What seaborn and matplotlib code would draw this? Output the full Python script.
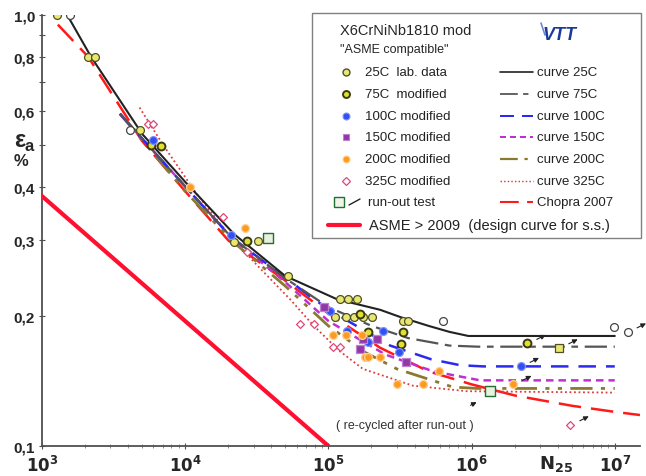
"""plot.py - X6CrNiNb1810 strain-life data vs. design curves"""
import matplotlib
matplotlib.use("Agg")
import matplotlib.pyplot as plt
import seaborn as sns
from matplotlib.transforms import offset_copy
from matplotlib.patches import Rectangle
from matplotlib.lines import Line2D
from matplotlib.ticker import FixedLocator, FixedFormatter, NullFormatter

sns.set_style("ticks")
plt.rcParams["font.family"] = ["Liberation Sans", "DejaVu Sans"]

# ---- data (N = cycles, e = strain amplitude %) ----
c25_N = [1.5e3, 2.2e3, 5e3, 1e4, 2.2e4, 5e4, 1.15e5, 2.3e5, 3.2e5, 5e5, 7e5, 9.5e5, 1e7]
c25_e = [1.0, 0.80, 0.53, 0.41, 0.31, 0.248, 0.219, 0.207, 0.199, 0.19, 0.184, 0.18, 0.18]
c75_N = [3.5e3, 1e4, 2.1e4, 5e4, 1e5, 2e5, 3.6e5, 7e5, 1.1e6, 1e7]
c75_e = [0.59, 0.40, 0.305, 0.245, 0.21, 0.19, 0.178, 0.171, 0.170, 0.170]
c100_N = [3.5e3, 1e4, 2.1e4, 5.7e4, 7.9e4, 1.3e5, 2.7e5, 5.2e5, 8.3e5, 1.2e6, 1e7]
c100_e = [0.59, 0.40, 0.305, 0.238, 0.219, 0.197, 0.171, 0.159, 0.154, 0.153, 0.153]
c150_N = [3.5e3, 1e4, 2.1e4, 5e4, 1e5, 1.5e5, 2.5e5, 5.4e5, 1.15e6, 1e7]
c150_e = [0.59, 0.40, 0.305, 0.24, 0.195, 0.18, 0.163, 0.149, 0.142, 0.142]
c200_N = [3.5e3, 1e4, 2.1e4, 5e4, 1e5, 1.8e5, 3e5, 7.4e5, 1.1e6, 1e7]
c200_e = [0.59, 0.39, 0.30, 0.235, 0.19, 0.165, 0.151, 0.137, 0.136, 0.136]
c325_N = [4.8e3, 7e3, 1.2e4, 2e4, 3.2e4, 5.4e4, 7.9e4, 1.2e5, 1.74e5, 3.9e5, 9.3e5, 1e7]
c325_e = [0.61, 0.50, 0.385, 0.31, 0.262, 0.219, 0.19, 0.166, 0.151, 0.138, 0.134, 0.133]
chopra_N = [1.29e3, 2.1e3, 5e3, 1e4, 2e4, 4.6e4, 1e5, 2.3e5, 5e5, 1e6, 2e6, 5e6, 1e7, 1.5e7]
chopra_e = [0.95, 0.80, 0.51, 0.39, 0.30, 0.247, 0.203, 0.169, 0.149, 0.139, 0.131, 0.124, 0.120, 0.118]
asme_N = [1e3, 1e5]
asme_e = [0.38, 0.10]

lab25_N = [1.27e3, 2.1e3, 2.35e3, 4.8e3, 2.2e4, 3.2e4, 5.2e4, 1.2e5, 1.38e5, 1.59e5,
           1.12e5, 1.32e5, 1.52e5, 1.74e5, 2.03e5, 3.3e5, 3.6e5]
lab25_e = [1.0, 0.80, 0.80, 0.54, 0.297, 0.299, 0.248, 0.219, 0.219, 0.219,
           0.199, 0.199, 0.199, 0.199, 0.199, 0.195, 0.195]
lab25_open_N = [1.57e3, 4.1e3, 6.3e5, 9.8e6, 1.23e7]
lab25_open_e = [1.0, 0.54, 0.195, 0.189, 0.184]
lab25_sq_N = [4.1e6]
lab25_sq_e = [0.169]
mod75_N = [5.8e3, 6.8e3, 2.7e4, 1.66e5, 1.9e5, 3.3e5, 3.2e5, 2.45e6]
mod75_e = [0.50, 0.497, 0.299, 0.202, 0.184, 0.184, 0.172, 0.173]
mod100_N = [6e3, 2.1e4, 1.02e5, 1.35e5, 2.4e5, 1.9e5, 3.1e5, 2.2e6]
mod100_e = [0.513, 0.309, 0.206, 0.185, 0.185, 0.174, 0.165, 0.153]
mod150_N = [9.3e4, 1.74e5, 2.2e5, 1.66e5, 3.5e5]
mod150_e = [0.21, 0.177, 0.177, 0.168, 0.157]
mod200_N = [1.08e4, 2.6e4, 1.07e5, 1.32e5, 1.72e5, 1.8e5, 1.9e5, 2.3e5, 5.9e5, 3.0e5, 4.6e5, 1.95e6]
mod200_e = [0.40, 0.32, 0.181, 0.181, 0.181, 0.161, 0.161, 0.161, 0.149, 0.139, 0.139, 0.139]
mod325_N = [5.5e3, 6e3, 1.85e4, 2.7e4, 6.3e4, 7.9e4, 1.08e5, 1.21e5, 4.9e6]
mod325_e = [0.558, 0.56, 0.34, 0.282, 0.192, 0.192, 0.170, 0.170, 0.112]
runout_N = [3.8e4, 1.35e6]
runout_e = [0.303, 0.134]
arrow_N = [2.45e6, 4.1e6, 2.2e6, 1.95e6, 4.9e6, 1.23e7]
arrow_e = [0.173, 0.169, 0.153, 0.139, 0.112, 0.184]

x_ticks = [1e3, 1e4, 1e5, 1e6, 1e7]
x_labels = [r"$\mathbf{10^{3}}$", r"$\mathbf{10^{4}}$", r"$\mathbf{10^{5}}$",
            r"$\mathbf{10^{6}}$", r"$\mathbf{10^{7}}$"]
y_ticks = [0.1, 0.2, 0.3, 0.4, 0.6, 0.8, 1.0]
y_labels = ["0,1", "0,2", "0,3", "0,4", "0,6", "0,8", "1,0"]

# ---- styles ----
c_yel, c_olive = "#e8e870", "#505028"
c_blue, c_purple, c_orange, c_pink = "#3050f0", "#9038a8", "#ff9a20", "#e04878"
curve_styles = {
    "25": dict(color="#222222", ls="-", lw=1.5),
    "75": dict(color="#555555", ls=(0, (10, 3, 3, 3)), lw=1.6),
    "100": dict(color="#2a2af0", ls=(0, (7, 4)), lw=1.8),
    "150": dict(color="#c030d0", ls=(0, (3, 2)), lw=1.8),
    "200": dict(color="#8a7a30", ls=(0, (8, 3, 1.5, 3, 1.5, 3)), lw=2.0),
    "325": dict(color="#e03a3a", ls=(0, (1, 1.5)), lw=1.3),
    "chopra": dict(color="#ff1a1a", ls=(0, (9, 4)), lw=1.8),
    "asme": dict(color="#ff1030", ls="-", lw=3.0),
}

W, H = 646, 477
fig = plt.figure(figsize=(W / 100, H / 100), dpi=100)
ax = fig.add_axes([42 / W, 30 / H, 598 / W, 431 / H])
ax.set_xscale("log")
ax.set_yscale("log")


def curve(N, e, key, z=3):
    st = curve_styles[key]
    sns.lineplot(x=N, y=e, ax=ax, sort=False, estimator=None, legend=False,
                 color=st["color"], linestyle=st["ls"], linewidth=st["lw"], zorder=z)


def pts(N, e, marker, face, edge, s=32, lw=0.9, z=5):
    sns.scatterplot(x=N, y=e, ax=ax, marker=marker, s=s, color=face,
                    edgecolor=edge, linewidth=lw, legend=False, zorder=z)


curve(asme_N, asme_e, "asme")
curve(chopra_N, chopra_e, "chopra")
curve(c325_N, c325_e, "325")
curve(c200_N, c200_e, "200")
curve(c150_N, c150_e, "150")
curve(c100_N, c100_e, "100")
curve(c75_N, c75_e, "75")
curve(c25_N, c25_e, "25", z=4)

pts(lab25_N, lab25_e, "o", c_yel, c_olive)
pts(lab25_open_N, lab25_open_e, "o", "white", "#444444")
pts(lab25_sq_N, lab25_sq_e, "s", c_yel, c_olive, s=28)
pts(mod75_N, mod75_e, "o", "#e0e030", "#3a3a10", lw=1.4)
pts(mod100_N, mod100_e, "o", c_blue, "#8090ff")
pts(mod150_N, mod150_e, "s", c_purple, "#c080d0", s=26)
pts(mod200_N, mod200_e, "o", c_orange, "#ffd090")
pts(mod325_N, mod325_e, "D", "white", c_pink, s=16)
pts(runout_N, runout_e, "s", "#e8f0e0", "#207030", s=60, lw=1.0, z=4)

# run-out arrows
for n, e in zip(arrow_N, arrow_e):
    ax.annotate("", xy=(n, e), xycoords=offset_copy(ax.transData, fig, x=15, y=7, units="points"),
                xytext=(n, e), textcoords=offset_copy(ax.transData, fig, x=5, y=2, units="points"),
                arrowprops=dict(arrowstyle="-|>", color="#222222", lw=0.8, mutation_scale=7))
ax.annotate("", xy=(1.35e6, 0.134), xycoords=offset_copy(ax.transData, fig, x=-8, y=-7, units="points"),
            xytext=(1.35e6, 0.134), textcoords=offset_copy(ax.transData, fig, x=-16, y=-11, units="points"),
            arrowprops=dict(arrowstyle="-|>", color="#222222", lw=0.8, mutation_scale=7))
ax.text(3.4e5, 0.112, "( re-cycled after run-out )", fontsize=9, color="#333333",
        ha="center", va="center")

# axes
ax.set_xlim(1e3, 1.5e7)
ax.set_ylim(0.1, 1.0)
ax.yaxis.set_major_locator(FixedLocator(y_ticks))
ax.yaxis.set_major_formatter(FixedFormatter(y_labels))
ax.yaxis.set_minor_formatter(NullFormatter())
ax.xaxis.set_major_locator(FixedLocator(x_ticks))
ax.xaxis.set_major_formatter(FixedFormatter(x_labels))
for lab in ax.get_yticklabels():
    lab.set_fontweight("bold")
ax.tick_params(axis="y", which="both", direction="inout", length=4, width=0.8,
               labelsize=11, pad=3, color="#505050")
ax.tick_params(axis="x", which="major", direction="inout", length=5, width=0.8,
               labelsize=12, pad=3, color="#505050")
ax.tick_params(axis="x", which="minor", direction="inout", length=3, width=0.6, color="#808080")
sns.despine(ax=ax)
for sp in ("left", "bottom"):
    ax.spines[sp].set_color("#505050")
    ax.spines[sp].set_linewidth(1.3)


def P(x, y):
    return x / W, 1 - y / H


fig.text(*P(20, 141), "ε", fontsize=17, fontweight="bold", ha="center", va="center")
fig.text(*P(29, 147), "a", fontsize=12, fontweight="bold", ha="center", va="center")
fig.text(*P(21, 162), "%", fontsize=12, fontweight="bold", ha="center", va="center")
fig.text(*P(556, 464), r"$\mathbf{N_{25}}$", fontsize=13, ha="center", va="center")

# ---- legend box, laid out by hand ----
fig.add_artist(Rectangle(P(312, 239), (641 - 312) / W, (239 - 14) / H, transform=fig.transFigure,
                         facecolor="white", edgecolor="#808080", lw=1.0, zorder=8))
fig.text(*P(340, 31), "X6CrNiNb1810 mod", fontsize=10.5, va="center", zorder=9)
fig.text(*P(340, 50), "\"ASME compatible\"", fontsize=9, va="center", zorder=9)
fig.text(*P(543, 36), "VTT", fontsize=13, fontweight="bold", style="italic",
         color="#1a3a9a", va="center", zorder=9)
fig.add_artist(Line2D([541 / W, 545 / W], [1 - 24 / H, 1 - 36 / H], transform=fig.transFigure,
                      color="#6a8ad0", lw=1.2, zorder=9))

rows_y = [73, 95, 117, 138, 160, 182]
left_items = [("25C  lab. data", "o", c_yel, c_olive, 1.0),
              ("75C  modified", "o", "#e0e030", "#3a3a10", 1.4),
              ("100C modified", "o", c_blue, "#8090ff", 0.8),
              ("150C modified", "s", c_purple, "#c080d0", 0.8),
              ("200C modified", "o", c_orange, "#ffd090", 0.8),
              ("325C modified", "D", "white", c_pink, 0.9)]
right_items = [("curve 25C", "25"), ("curve 75C", "75"), ("curve 100C", "100"),
               ("curve 150C", "150"), ("curve 200C", "200"), ("curve 325C", "325")]
for y, (lab, m, fc, ec, lw), (rlab, key) in zip(rows_y, left_items, right_items):
    fig.add_artist(Line2D([346 / W], [1 - y / H], transform=fig.transFigure, marker=m,
                          markersize=5 if m != "D" else 4, markerfacecolor=fc,
                          markeredgecolor=ec, markeredgewidth=lw, lw=0, zorder=9))
    fig.text(*P(365, y), lab, fontsize=9.5, va="center", color="#222222", zorder=9)
    st = curve_styles[key]
    fig.add_artist(Line2D([500 / W, 533 / W], [1 - y / H] * 2, transform=fig.transFigure,
                          color=st["color"], linestyle=st["ls"], lw=st["lw"] * 0.8, zorder=9))
    fig.text(*P(537, y), rlab, fontsize=9.5, va="center", color="#222222", zorder=9)

fig.add_artist(Line2D([339 / W], [1 - 203 / H], transform=fig.transFigure, marker="s",
                      markersize=7, markerfacecolor="#f0f4ea", markeredgecolor="#207030",
                      lw=0, zorder=9))
fig.add_artist(Line2D([349 / W, 360 / W], [1 - 206 / H, 1 - 200 / H], transform=fig.transFigure,
                      color="#222222", lw=1.0, zorder=9))
fig.text(*P(368, 203), "run-out test", fontsize=9.5, va="center", color="#222222", zorder=9)
st = curve_styles["chopra"]
fig.add_artist(Line2D([500 / W, 533 / W], [1 - 203 / H] * 2, transform=fig.transFigure,
                      color=st["color"], linestyle=st["ls"], lw=1.5, zorder=9))
fig.text(*P(537, 203), "Chopra 2007", fontsize=9.5, va="center", color="#222222", zorder=9)
fig.add_artist(Line2D([328 / W, 360 / W], [1 - 226 / H] * 2, transform=fig.transFigure,
                      color="#ff1030", lw=3, zorder=9))
fig.text(*P(369, 226), "ASME > 2009  (design curve for s.s.)", fontsize=10.5, va="center",
         color="#222222", zorder=9)

fig.savefig("out.png", dpi=100)
